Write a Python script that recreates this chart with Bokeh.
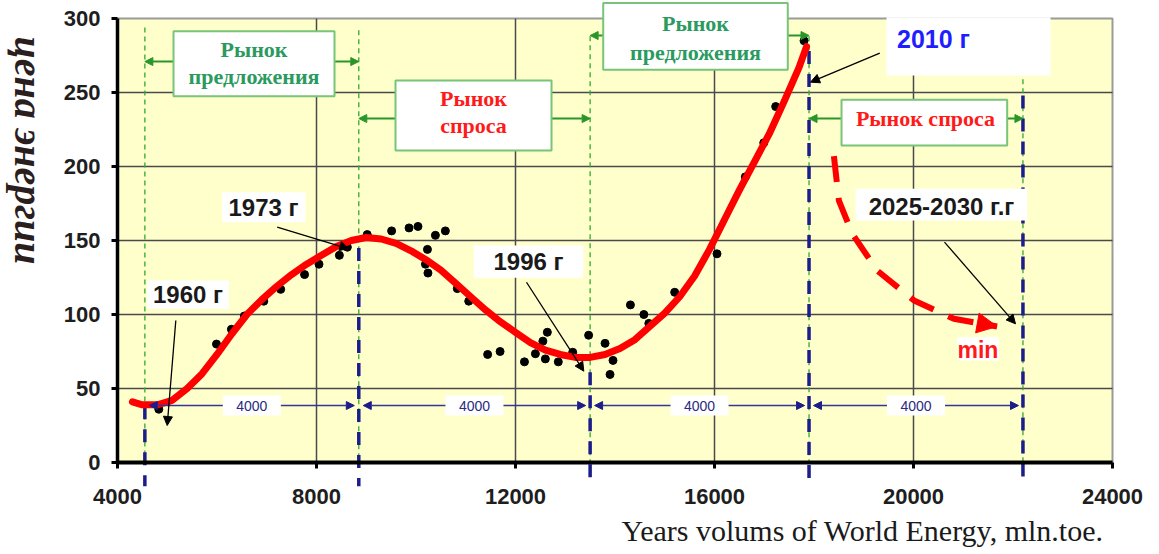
import numpy as np
from bokeh.plotting import figure
from bokeh.models import Range1d, FixedTicker, Arrow, NormalHead, Label
from bokeh.core.properties import value
from bokeh.embed import file_html
from bokeh.resources import INLINE

# ---------------- data ----------------
x_ticks = [4000, 8000, 12000, 16000, 20000, 24000]
y_ticks = [0, 50, 100, 150, 200, 250, 300]

obs_x = [4830, 5990, 6290, 6550, 6940, 7280, 7760, 8050, 8460, 8620, 9020, 9510,
         9860, 10040, 10230, 10190, 10240, 10390, 10590, 10830, 11060, 11440, 11690,
         12180, 12400, 12550, 12640, 12600, 12860, 13150, 13470, 13800, 13960, 13900,
         14310, 14580, 14680, 15200, 16050, 16620, 16990, 17230, 17800]
obs_y = [36, 80, 90, 99, 109, 117, 127, 134, 140, 145.5, 154, 156.5,
         158.5, 159.5, 144, 134, 128, 153.5, 156.5, 117.5, 109, 73, 75,
         68, 73.5, 82, 88, 70, 68, 74.5, 86, 80.5, 69, 59.5,
         106.5, 100, 94, 115, 141, 193, 216, 240.5, 285]

trend_x = [4300, 4500, 4800, 5100, 5400, 5700, 6000, 6300, 6600, 6900, 7200, 7500,
           7800, 8100, 8400, 8700, 9000, 9300, 9600, 9900, 10200, 10500, 10800, 11100,
           11400, 11700, 12000, 12300, 12600, 12900, 13200, 13500, 13800, 14100, 14400,
           14700, 15000, 15300, 15600, 15900, 16200, 16500, 16800, 17100, 17400, 17700, 17850]
trend_y = [41, 39, 39, 42, 50, 60, 73, 87, 100, 110, 119, 127,
           134, 140, 146, 150, 152, 151, 148, 143, 137, 130, 121, 112,
           103, 95, 88, 81, 76, 73, 71, 71, 73, 77, 83,
           92, 101, 112, 126, 144, 164, 184, 203, 222, 244, 267, 281]

forecast_x = [18400, 18500, 18770, 19270, 20010, 20810, 21680]
forecast_y = [207, 177, 154.5, 129.7, 109.5, 97.1, 91.9]

boundaries = [4550, 8850, 13500, 17900, 22200]
interval_text = "4000"

# ---------------- styling / layout ----------------
W, H = 1159, 554
# frame covers the whole canvas; axes are placed at fixed locations inside it
X0, X1 = 1648.2, 24944.7
Y0, Y1 = -62.16, 312.16
p = figure(width=W, height=H, output_backend="svg", toolbar_location=None, title=None,
           x_range=Range1d(X0, X1), y_range=Range1d(Y0, Y1),
           min_border_left=0, min_border_right=0, min_border_top=0, min_border_bottom=0)
p.background_fill_color = "white"
p.border_fill_color = "white"
p.outline_line_color = None
p.grid.visible = False

xa = p.xaxis[0]
xa.fixed_location = y_ticks[0]
xa.ticker = FixedTicker(ticks=x_ticks)
xa.bounds = (x_ticks[0], x_ticks[-1])
xa.axis_line_width = 4
xa.axis_line_color = "black"
xa.major_tick_out = 6
xa.major_tick_in = 0
xa.major_tick_line_width = 3
xa.minor_tick_line_color = None
xa.major_label_text_font = "Liberation Sans"
xa.major_label_text_font_style = "bold"
xa.major_label_text_font_size = "22px"
xa.major_label_text_color = "#1e1e1e"
xa.major_label_standoff = 20

ya = p.yaxis[0]
ya.fixed_location = x_ticks[0]
ya.ticker = FixedTicker(ticks=y_ticks)
ya.bounds = (y_ticks[0], y_ticks[-1])
ya.axis_line_width = 3.5
ya.axis_line_color = "black"
ya.major_tick_out = 6
ya.major_tick_in = 0
ya.major_tick_line_width = 3
ya.minor_tick_line_color = None
ya.major_label_text_font = "Liberation Sans"
ya.major_label_text_font_style = "bold"
ya.major_label_text_font_size = "22px"
ya.major_label_text_color = "#1e1e1e"
ya.major_label_standoff = 11

# plot area background
p.quad(left=[x_ticks[0]], right=[x_ticks[-1]], bottom=[y_ticks[0]], top=[y_ticks[-1]],
       fill_color="#FFFFCC", line_color="#9a9a9a", line_width=2, level="image")
# grid
gx = x_ticks[1:-1]
p.segment(x0=gx, y0=[y_ticks[0]] * len(gx), x1=gx, y1=[y_ticks[-1]] * len(gx),
          line_color="#4a4a4a", line_width=1.5)
gy = y_ticks[1:-1]
p.segment(x0=[x_ticks[0]] * len(gy), y0=gy, x1=[x_ticks[-1]] * len(gy), y1=gy,
          line_color="#4a4a4a", line_width=1.5)

GREEN_LINE = "#2eaa2e"
NAVY = "#1c1c8a"
green_top = [294, 292, 288, 288, 259]
blue_top = [38, 145, 61, 278, 248]
p.segment(x0=boundaries, y0=green_top, x1=boundaries, y1=[0] * 5,
          line_color=GREEN_LINE, line_dash="5 4", line_width=1.3)
p.segment(x0=boundaries, y0=blue_top, x1=boundaries, y1=[-16] * 5,
          line_color=NAVY, line_dash="13 10", line_width=3.5)

# interval arrows
ROW_Y = 38.5
for a, b in zip(boundaries[:-1], boundaries[1:]):
    p.add_layout(Arrow(x_start=a + 90, y_start=ROW_Y, x_end=b - 90, y_end=ROW_Y,
                       line_color="#34349c", line_width=1.3,
                       start=NormalHead(size=8, fill_color="#1c1c8a", line_color="#1c1c8a"),
                       end=NormalHead(size=8, fill_color="#1c1c8a", line_color="#1c1c8a")))

# data
p.scatter(obs_x, obs_y, size=8, color="black")
p.line(trend_x, trend_y, line_color="red", line_width=7, line_cap="round", line_join="round")
p.line(forecast_x, forecast_y, line_color="red", line_width=6, line_dash="26 16")
p.add_layout(Arrow(x_start=forecast_x[-2], y_start=forecast_y[-2],
                   x_end=forecast_x[-1], y_end=forecast_y[-1], line_alpha=0,
                   end=NormalHead(size=20, fill_color="red", line_color="red")))

# green arrows from market boxes
GA = "#2a962a"
green_arrows = [
    (5126, 270.9, 4550), (8362, 270.9, 8850),
    (9588, 232.4, 8850), (12724, 232.4, 13500),
    (13763, 288.5, 13500), (17473, 288.5, 17900),
    (18553, 232.4, 17900), (21883, 232.4, 22200),
]
for xs, yy, xe in green_arrows:
    p.add_layout(Arrow(x_start=xs, y_start=yy, x_end=xe, y_end=yy, line_color=GA, line_width=2,
                       end=NormalHead(size=8, fill_color=GA, line_color=GA)))

# callout arrows
for xs, ys, xe, ye in [(5172, 95.9, 4999, 25), (7210, 159, 8649, 144.4),
                       (12221, 121.8, 13373, 61.7), (19322, 276.6, 17930, 257),
                       (20623, 148.9, 22050, 93.7)]:
    p.add_layout(Arrow(x_start=xs, y_start=ys, x_end=xe, y_end=ye, line_color="black",
                       line_width=1.3, end=NormalHead(size=9, fill_color="black", line_color="black")))

# boxes
def box(l, r, b, t, line=None):
    p.quad(left=[l], right=[r], bottom=[b], top=[t], fill_color="white",
           line_color=line, line_width=2, level="overlay")

BOXG = "#78c478"
box(5126, 8362, 247.5, 291.4, BOXG)
box(9588, 12724, 210.8, 258.1, BOXG)
box(13763, 17473, 265.3, 310.5, BOXG)
box(19457, 22754, 261.5, 300.9)
box(18553, 21883, 214.2, 245.1, BOXG)
box(4597, 6237, 103.9, 123)
box(6104, 7779, 162.4, 182.6)
box(11162, 13361, 124.8, 146.6)
box(18834, 22285, 163.5, 184.9)
box(20878, 21714, 68.9, 84.7)
for a, b in zip(boundaries[:-1], boundaries[1:]):
    c = (a + b) / 2
    box(c - 583, c + 583, 31.8, 45.3)


def txt(x, y, s, color, size, font="Liberation Sans", style="bold"):
    p.text(x=[x], y=[y], text=[s], text_color=color, text_font=value(font),
           text_font_style=style, text_font_size=size, text_align="center",
           text_baseline="middle", level="overlay")

GT = "#2a9a5e"
RT = "#ff1a1a"
txt(6744, 279, "Рынок", GT, "22px", "Liberation Serif")
txt(6744, 260.5, "предложения", GT, "22px", "Liberation Serif")
txt(11156, 245.7, "Рынок", RT, "22px", "Liberation Serif")
txt(11156, 227.7, "спроса", RT, "22px", "Liberation Serif")
txt(15618, 296.4, "Рынок", GT, "22px", "Liberation Serif")
txt(15618, 277.2, "предложения", GT, "22px", "Liberation Serif")
txt(20241, 232.4, "Рынок спроса", RT, "22px", "Liberation Serif")
txt(20402, 286.3, "2010 г", "#1e1eff", "25px")
txt(5417, 113.5, "1960 г", "#1a1a1a", "24px")
txt(6935, 172.3, "1973 г", "#1a1a1a", "24px")
txt(12261, 135.8, "1996 г", "#1a1a1a", "24px")
txt(20563, 173, "2025-2030 г.г", "#1a1a1a", "24px")
txt(21296, 76, "min", RT, "23px")
for a, b in zip(boundaries[:-1], boundaries[1:]):
    txt((a + b) / 2, ROW_Y, interval_text, "#2a2a80", "14px", style="normal")

# axis titles
p.add_layout(Label(x=2211, y=210.8, text="цена энергии", angle=-np.pi / 2,
                   text_align="center", text_baseline="middle",
                   text_font="Liberation Serif", text_font_style="bold italic",
                   text_font_size="40px", text_color="#2a1e1e"))
p.add_layout(Label(x=23819, y=-46, text="Years volums of World Energy, mln.toe.",
                   text_align="right", text_baseline="middle",
                   text_font="Liberation Serif", text_font_style="normal",
                   text_font_size="30px", text_color="#1a1a1a"))

open("out.html", "w").write(file_html(p, INLINE))
